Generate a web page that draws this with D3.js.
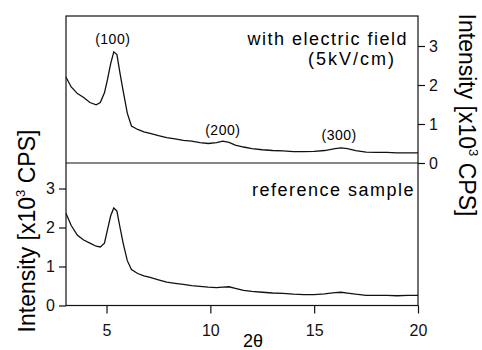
<!DOCTYPE html>
<html>
<head>
<meta charset="utf-8">
<script src="https://cdn.jsdelivr.net/npm/d3@7"></script>
<style>
  body { margin: 0; background: #fff; }
  svg { font-family: "Liberation Sans", Arial, sans-serif; }
</style>
</head>
<body>
<div id="chart"></div>
<script>
// chart size
const WIDTH = 482;
const HEIGHT = 350;

// 2theta positions shared by both scans
const twoTheta = [3.05, 3.3, 3.6, 3.9, 4.2, 4.5, 4.7, 4.9, 5.05, 5.2, 5.35, 5.5, 5.65, 5.8, 6.0, 6.2,
  6.5, 6.8, 7.1, 7.5, 7.9, 8.3, 8.7, 9.1, 9.5, 9.9, 10.3, 10.6, 10.9, 11.2, 11.6, 12.0, 12.5,
  13.0, 13.5, 14.0, 14.5, 15.0, 15.5, 16.0, 16.3, 16.6, 17.0, 17.5, 18.0, 18.5, 19.0, 19.5, 20.0];

// with electric field (5kV/cm), x10^3 CPS
const fieldScan = [2.2, 1.95, 1.78, 1.68, 1.55, 1.49, 1.55, 1.8, 2.15, 2.55, 2.85, 2.78, 2.3, 1.85, 1.28, 0.95,
  0.86, 0.8, 0.76, 0.7, 0.65, 0.62, 0.58, 0.56, 0.52, 0.5, 0.52, 0.56, 0.53, 0.46, 0.41, 0.37, 0.34,
  0.32, 0.31, 0.29, 0.29, 0.3, 0.32, 0.37, 0.39, 0.37, 0.32, 0.28, 0.27, 0.27, 0.26, 0.26, 0.26];

// reference sample, x10^3 CPS
const refScan = [2.36, 2.05, 1.8, 1.68, 1.6, 1.52, 1.5, 1.6, 1.95, 2.3, 2.5, 2.42, 2.0, 1.6, 1.15, 0.92,
  0.82, 0.76, 0.72, 0.66, 0.6, 0.57, 0.54, 0.51, 0.49, 0.47, 0.46, 0.47, 0.48, 0.44, 0.39, 0.36, 0.34,
  0.32, 0.31, 0.29, 0.28, 0.28, 0.3, 0.33, 0.34, 0.32, 0.29, 0.26, 0.26, 0.26, 0.25, 0.26, 0.26];

const xTicks = [5, 10, 15, 20];
const yTicks = [0, 1, 2, 3];

// reflection labels on the upper scan
const peakLabels = [
  { text: "(100)", x: 5.3, y: 3.05 },
  { text: "(200)", x: 10.6, y: 0.73 },
  { text: "(300)", x: 16.2, y: 0.6 }
];

const svg = d3.select("#chart").append("svg")
  .attr("width", WIDTH)
  .attr("height", HEIGHT);

// frame edges
const fLeft = 66, fRight = 418, fTop = 16, fMid = 163, fBottom = 305.5;

const x = d3.scaleLinear().domain([3, 20]).range([65, fRight]);
const yTop = d3.scaleLinear().domain([0, (fMid - fTop) / 39]).range([fMid, fTop]);
const yBot = d3.scaleLinear().domain([0, (fBottom - fMid) / 39]).range([fBottom, fMid]);

// frame
svg.append("rect")
  .attr("x", fLeft).attr("y", fTop)
  .attr("width", fRight - fLeft).attr("height", fBottom - fTop)
  .attr("fill", "none").attr("stroke", "#111").attr("stroke-width", 1.2);
svg.append("line")
  .attr("x1", fLeft).attr("x2", fRight)
  .attr("y1", fMid).attr("y2", fMid)
  .attr("stroke", "#111").attr("stroke-width", 1.2);

// axes
const xAxis = d3.axisBottom(x).tickValues(xTicks).tickFormat(d3.format("d"))
  .tickSize(8).tickSizeOuter(0).tickPadding(11);
const rightAxis = d3.axisRight(yTop).tickValues(yTicks).tickFormat(d3.format("d"))
  .tickSize(7).tickSizeOuter(0).tickPadding(4);
const leftAxis = d3.axisLeft(yBot).tickValues(yTicks).tickFormat(d3.format("d"))
  .tickSize(7).tickSizeOuter(0).tickPadding(4);

function styleAxis(g) {
  g.select(".domain").remove();
  g.selectAll("line").attr("stroke", "#111").attr("stroke-width", 1.2);
  g.selectAll("text").attr("fill", "#111")
    .style("font-size", "16px")
    .style("font-family", "'Liberation Sans', Arial, sans-serif");
}

svg.append("g").attr("transform", `translate(0,${fBottom})`).call(xAxis).call(styleAxis);
svg.append("g").attr("transform", `translate(${fRight},0)`).call(rightAxis).call(styleAxis);
svg.append("g").attr("transform", `translate(${fLeft},0)`).call(leftAxis).call(styleAxis);

// scans
const topLine = d3.line().x((d, i) => x(twoTheta[i])).y(d => yTop(d));
const botLine = d3.line().x((d, i) => x(twoTheta[i])).y(d => yBot(d));

svg.append("path").datum(fieldScan)
  .attr("d", topLine)
  .attr("fill", "none").attr("stroke", "#111").attr("stroke-width", 1.3);
svg.append("path").datum(refScan)
  .attr("d", botLine)
  .attr("fill", "none").attr("stroke", "#111").attr("stroke-width", 1.3);

// labels
svg.selectAll(".peak").data(peakLabels).enter().append("text")
  .attr("class", "peak")
  .attr("x", d => x(d.x))
  .attr("y", d => yTop(d.y))
  .attr("text-anchor", "middle")
  .style("font-size", "14px")
  .style("letter-spacing", "0.5px")
  .text(d => d.text);

svg.append("text").attr("x", 408).attr("y", 45)
  .attr("text-anchor", "end").style("font-size", "18px").style("letter-spacing", "1.5px")
  .text("with electric field");
svg.append("text").attr("x", 396).attr("y", 65)
  .attr("text-anchor", "end").style("font-size", "18px").style("letter-spacing", "2px")
  .text("(5kV/cm)");
svg.append("text").attr("x", 415).attr("y", 196)
  .attr("text-anchor", "end").style("font-size", "18px").style("letter-spacing", "1.5px")
  .text("reference sample");

// axis titles
function intensityTitle(t) {
  t.append("tspan").text("Intensity [x10");
  t.append("tspan").attr("dy", -10).style("font-size", "13px").text("3");
  t.append("tspan").attr("dy", 10).text(" CPS]");
}

svg.append("text")
  .attr("transform", "translate(35,231) rotate(-90)")
  .attr("text-anchor", "middle").style("font-size", "23px")
  .call(intensityTitle);
svg.append("text")
  .attr("transform", "translate(459,115) rotate(90)")
  .attr("text-anchor", "middle").style("font-size", "23px")
  .call(intensityTitle);

svg.append("text").attr("x", 253).attr("y", 347)
  .attr("text-anchor", "middle").style("font-size", "18px")
  .text("2θ");
</script>
</body>
</html>
